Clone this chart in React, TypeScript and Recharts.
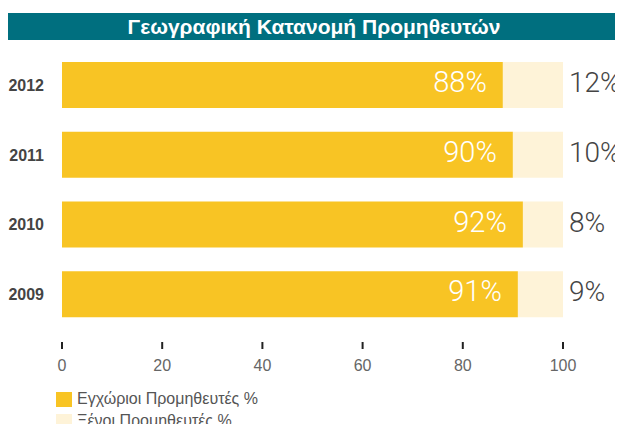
import { BarChart, Bar, XAxis, YAxis, Legend, LabelList } from 'recharts'

const YEARS = ['2012', '2011', '2010', '2009']
const LOCAL = [88, 90, 92, 91]
const FOREIGN = [12, 10, 8, 9]
const X_TICKS = [0, 20, 40, 60, 80, 100]

const LOCAL_NAME = 'Εγχώριοι Προμηθευτές %'
const FOREIGN_NAME = 'Ξένοι Προμηθευτές %'
const TITLE = 'Γεωγραφική Κατανομή Προμηθευτών'

const YELLOW = '#F8C424'
const PALE = '#FEF3D8'
const TEAL = '#006F7F'
const FONT = '"Liberation Sans", Arial, sans-serif'
const LIGHT_FONT = 'Roboto, "Liberation Sans", sans-serif'

const data = YEARS.map((year, i) => ({
  year,
  local: LOCAL[i],
  foreign: FOREIGN[i],
}))

// eslint-disable-next-line @typescript-eslint/no-explicit-any
function XTick({ x, y, payload }: any) {
  return (
    <g>
      <line x1={x} x2={x} y1={y + 13} y2={y + 20} stroke="#222" strokeWidth={2} />
      <text
        x={x}
        y={y + 42}
        textAnchor="middle"
        fill="#666"
        fontSize={16}
        fontFamily={FONT}
      >
        {payload.value}
      </text>
    </g>
  )
}

// eslint-disable-next-line @typescript-eslint/no-explicit-any
function YTick({ x, y, payload }: any) {
  return (
    <text
      x={x}
      y={y + 6}
      textAnchor="end"
      fill="#444"
      fontSize={16}
      fontWeight="bold"
      fontFamily={FONT}
    >
      {payload.value}
    </text>
  )
}

// eslint-disable-next-line @typescript-eslint/no-explicit-any
function InsideLabel({ x, y, width, height, value }: any) {
  return (
    <text
      x={x + width - 16}
      y={y + height / 2 + 7}
      textAnchor="end"
      fill="#fff"
      fontSize={29}
      fontWeight={300}
      fontFamily={LIGHT_FONT}
    >
      {value}%
    </text>
  )
}

// eslint-disable-next-line @typescript-eslint/no-explicit-any
function OutsideLabel({ x, y, width, height, value }: any) {
  return (
    <text
      x={x + width + 6}
      y={y + height / 2 + 7}
      textAnchor="start"
      fill="#444"
      fontSize={28}
      fontWeight={300}
      fontFamily={LIGHT_FONT}
    >
      {value}%
    </text>
  )
}

function LegendBox() {
  const items = [
    { name: LOCAL_NAME, color: YELLOW },
    { name: FOREIGN_NAME, color: PALE },
  ]
  return (
    <div style={{ paddingLeft: 48, fontFamily: FONT }}>
      {items.map((it) => (
        <div
          key={it.name}
          style={{ display: 'flex', alignItems: 'center', height: 22 }}
        >
          <span
            style={{
              display: 'inline-block',
              width: 16,
              height: 15,
              background: it.color,
              marginRight: 5,
            }}
          />
          <span style={{ fontSize: 16, color: '#555' }}>{it.name}</span>
        </div>
      ))}
    </div>
  )
}

export default function App() {
  return (
    <div style={{ width: 612, paddingTop: 5, fontFamily: FONT }}>
      <div
        style={{
          height: 27,
          lineHeight: '27px',
          background: TEAL,
          color: '#fff',
          fontWeight: 'bold',
          fontSize: 21,
          textAlign: 'center',
        }}
      >
        {TITLE}
      </div>
      <BarChart
        width={612}
        height={392}
        data={data}
        layout="vertical"
        margin={{ top: 10, right: 57, left: 0, bottom: 0 }}
        barSize={46}
      >
        <XAxis
          type="number"
          domain={[0, 100]}
          ticks={X_TICKS}
          interval={0}
          axisLine={false}
          tickLine={false}
          tickSize={0}
          tickMargin={0}
          height={59}
          tick={<XTick />}
        />
        <YAxis
          type="category"
          dataKey="year"
          width={54}
          axisLine={false}
          tickLine={false}
          tickSize={0}
          tickMargin={18}
          tick={<YTick />}
        />
        <Legend
          verticalAlign="bottom"
          align="left"
          wrapperStyle={{ left: 0 }}
          content={<LegendBox />}
        />
        <Bar
          dataKey="local"
          name={LOCAL_NAME}
          stackId="a"
          fill={YELLOW}
          isAnimationActive={false}
        >
          <LabelList dataKey="local" content={<InsideLabel />} />
        </Bar>
        <Bar
          dataKey="foreign"
          name={FOREIGN_NAME}
          stackId="a"
          fill={PALE}
          isAnimationActive={false}
        >
          <LabelList dataKey="foreign" content={<OutsideLabel />} />
        </Bar>
      </BarChart>
    </div>
  )
}
